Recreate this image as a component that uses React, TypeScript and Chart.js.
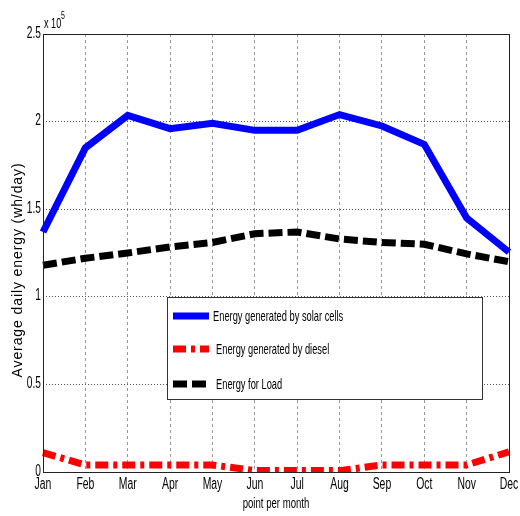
import React, { useEffect, useRef } from "react";
import { Chart, registerables } from "chart.js";

Chart.register(...registerables);

const months = ["Jan", "Feb", "Mar", "Apr", "May", "Jun", "Jul", "Aug", "Sep", "Oct", "Nov", "Dec"];
// Average daily energy, wh/day
const solar = [137000, 185000, 203500, 196000, 199000, 195000, 195000, 204000, 197500, 187000, 145000, 125500];
const diesel = [11000, 4000, 4000, 4000, 4000, 800, 800, 800, 4000, 4000, 4000, 11500];
const load = [118000, 122000, 125000, 128500, 131000, 136000, 137000, 133000, 131000, 130000, 124500, 120000];
const yTicks = [0, 50000, 100000, 150000, 200000, 250000];
const yTickLabels = ["0", "0.5", "1", "1.5", "2", "2.5"];
const seriesNames = ["Energy generated by solar cells", "Energy generated by diesel", "Energy for Load"];
const xTitle = "point per month";
const yTitle = "Average daily energy (wh/day)";

const FONT = "'Liberation Sans', Arial, sans-serif";

// Draws condensed text: the face is squeezed horizontally by sx.
function narrowText(ctx: any, text: string, x: number, y: number, size: number, sx: number, align: "left" | "center" | "right", baseline: CanvasTextBaseline = "alphabetic") {
  ctx.save();
  ctx.font = `${size}px ${FONT}`;
  ctx.textBaseline = baseline;
  ctx.textAlign = align;
  ctx.translate(x, y);
  ctx.scale(sx, 1);
  ctx.fillText(text, 0, 0);
  ctx.restore();
}

const decor = {
  id: "decor",
  beforeDraw(chart: any) {
    const { ctx } = chart;
    ctx.save();
    ctx.fillStyle = "#ffffff";
    ctx.fillRect(0, 0, chart.width, chart.height);
    ctx.restore();
  },
  afterDraw(chart: any) {
    const { ctx, chartArea: a } = chart;
    const xs = chart.scales.x;
    const ys = chart.scales.y;
    ctx.save();
    ctx.strokeStyle = "#222";
    ctx.lineWidth = 1;
    ctx.setLineDash([]);
    ctx.strokeRect(a.left + 0.5, a.top + 0.5, a.right - a.left, a.bottom - a.top);

    ctx.fillStyle = "#000";
    // tick labels
    yTicks.forEach((v, i) => {
      narrowText(ctx, yTickLabels[i], a.left - 2, ys.getPixelForValue(v) - 1, 17, 0.6, "right", "middle");
    });
    months.forEach((m, i) => {
      narrowText(ctx, m, xs.getPixelForValue(i), a.bottom + 17, 16, 0.65, "center");
    });
    // axis titles
    narrowText(ctx, xTitle, (a.left + a.right) / 2, a.bottom + 36, 15, 0.64, "center");
    ctx.save();
    ctx.translate(18, 270);
    ctx.rotate(-Math.PI / 2);
    ctx.font = `14px ${FONT}`;
    (ctx as any).letterSpacing = "0.9px";
    ctx.textAlign = "center";
    ctx.textBaseline = "middle";
    ctx.fillText(yTitle, 0, 0);
    ctx.restore();

    // exponent label
    narrowText(ctx, "x 10", a.left + 1, a.top - 6, 14, 0.65, "left");
    narrowText(ctx, "5", a.left + 18, a.top - 15, 10, 0.7, "left");

    // legend box
    const bx = 167, by = 297, bw = 315, bh = 102;
    ctx.fillStyle = "#fff";
    ctx.fillRect(bx, by, bw, bh);
    ctx.strokeStyle = "#333";
    ctx.strokeRect(bx + 0.5, by + 0.5, bw, bh);
    const rows = [
      { y: 316, color: "#0000ff", dash: [] as number[], tx: 213 },
      { y: 349, color: "#ff0000", dash: [13, 5, 4, 5], tx: 216 },
      { y: 384, color: "#000000", dash: [14, 5], tx: 216 },
    ];
    rows.forEach((r, i) => {
      ctx.beginPath();
      ctx.strokeStyle = r.color;
      ctx.lineWidth = 7;
      ctx.lineCap = "butt";
      ctx.setLineDash(r.dash);
      ctx.moveTo(173, r.y);
      ctx.lineTo(209, r.y);
      ctx.stroke();
      ctx.setLineDash([]);
      ctx.fillStyle = "#000";
      narrowText(ctx, seriesNames[i], r.tx, r.y + 1, 15, 0.62, "left", "middle");
    });
    ctx.restore();
  },
};

export default function App() {
  const ref = useRef<HTMLCanvasElement>(null);
  useEffect(() => {
    document.body.style.margin = "0";
    const chart = new Chart(ref.current!, {
      type: "line",
      data: {
        labels: months,
        datasets: [
          { label: seriesNames[0], data: solar, borderColor: "#0000ff", borderWidth: 7, borderCapStyle: "butt", pointRadius: 0, tension: 0 },
          { label: seriesNames[1], data: diesel, borderColor: "#ff0000", borderWidth: 7, borderDash: [13, 5, 4, 5], borderCapStyle: "butt", pointRadius: 0, tension: 0 },
          { label: seriesNames[2], data: load, borderColor: "#000000", borderWidth: 7, borderDash: [14, 5], borderCapStyle: "butt", pointRadius: 0, tension: 0 },
        ],
      },
      options: {
        responsive: false,
        animation: false,
        layout: { padding: { top: 34, right: 11, left: 0, bottom: 0 } },
        plugins: { legend: { display: false }, tooltip: { enabled: false } },
        scales: {
          x: {
            grid: { color: "#999", drawTicks: false },
            border: { display: false, dash: [3, 3] },
            ticks: { display: false, autoSkip: false },
            afterFit: (s: any) => { s.height = 44; s.paddingLeft = 0; s.paddingRight = 0; },
          },
          y: {
            min: 0,
            max: 250000,
            afterBuildTicks: (s: any) => { s.ticks = yTicks.map((v) => ({ value: v })); },
            grid: { color: "#555", drawTicks: false },
            border: { display: false, dash: [1, 2] },
            ticks: { display: false },
            afterFit: (s: any) => { s.width = 43; s.paddingTop = 0; s.paddingBottom = 0; },
          },
        },
      },
      plugins: [decor],
    });
    return () => chart.destroy();
  }, []);
  return (
    <div style={{ position: "relative", width: 520, height: 516 }}>
      <canvas ref={ref} width={520} height={516} />
    </div>
  );
}
